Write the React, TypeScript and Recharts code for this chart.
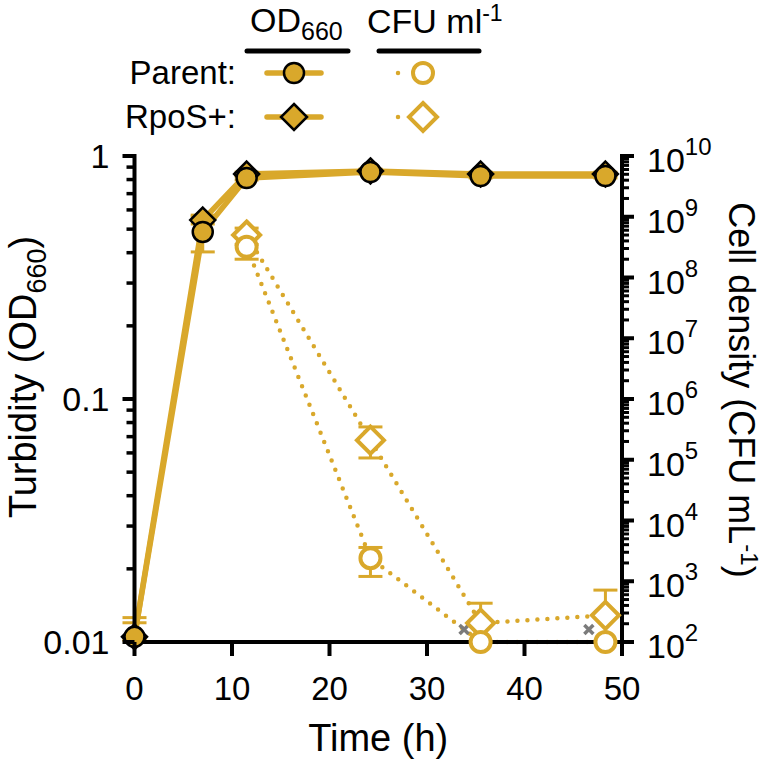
import React from "react";
import { ComposedChart, Line, Scatter, XAxis, YAxis, ErrorBar, Label } from "recharts";

const GOLD = "#D9A82B";
const GREY = "#7b7b7b";
const FONT = "'Liberation Sans', Arial, Helvetica, sans-serif";

// OD660 (left axis)
const times = [0, 7, 11.5, 24.2, 35.5, 48.3];
const odParent = [0.0105, 0.487, 0.812, 0.859, 0.827, 0.827];
const odRpoS = [0.0105, 0.545, 0.843, 0.868, 0.843, 0.843];
const odParentErr = [[0.0003, 0.0021], [0.084, 0.084], [0.015, 0.015], [0.015, 0.015], [0.015, 0.015], [0.015, 0.015]];
const odRpoSErr = [[0.0003, 0.0015], [0.02, 0.02], [0.015, 0.015], [0.015, 0.015], [0.015, 0.015], [0.015, 0.015]];

// CFU ml-1 (right axis)
const cfuTimes = [11.5, 24.2, 35.5, 48.3];
const cfuParent = [3.2e8, 2.4e3, 100, 100];
const cfuParentErr = [[1.2e8, 1.4e8], [1.2e3, 1.2e3], [0, 0], [0, 0]];
const cfuRpoS = [5.0e8, 2.1e5, 205, 275];
const cfuRpoSErr = [[1.5e8, 1.5e8], [1.03e5, 1.37e5], [0, 230], [0, 440]];

// grey crosses near detection limit
const crossTimes = [33.8, 46.6];
const crossValues = [160, 160];

// ticks
const xTicks = [0, 10, 20, 30, 40, 50];
const leftMajor = [0.01, 0.1, 1];
const leftLabels = ["0.01", "0.1", "1"];
const rightMajor = [1e2, 1e3, 1e4, 1e5, 1e6, 1e7, 1e8, 1e9, 1e10];
const rightExponents = ["2", "3", "4", "5", "6", "7", "8", "9", "10"];

const leftTicks: number[] = [];
[0.01, 0.1].forEach((d) => {
  for (let k = 1; k < 10; k++) leftTicks.push(+(d * k).toPrecision(3));
});
leftTicks.push(1);

const rightTicks: number[] = [];
rightMajor.slice(0, -1).forEach((d) => {
  for (let k = 1; k < 10; k++) rightTicks.push(d * k);
});
rightTicks.push(1e10);

const odRows = times.map((t, i) => ({
  t,
  parent: odParent[i],
  rpos: odRpoS[i],
  parentErr: odParentErr[i],
  rposErr: odRpoSErr[i],
}));
const cfuParentRows = cfuTimes.map((t, i) => ({ t, v: cfuParent[i], err: cfuParentErr[i] }));
const cfuRpoSRows = cfuTimes.map((t, i) => ({ t, v: cfuRpoS[i], err: cfuRpoSErr[i] }));
const crossRows = crossTimes.map((t, i) => ({ t, v: crossValues[i] }));

const diamondPath = (cx: number, cy: number, h: number) =>
  `M${cx},${cy - h} L${cx + h},${cy} L${cx},${cy + h} L${cx - h},${cy} Z`;

const filledCircle = (p: any) =>
  p.cy == null ? <g key={p.index} /> : (
    <circle key={p.index} cx={p.cx} cy={p.cy} r={10} fill={GOLD} stroke="#000" strokeWidth={2.5} />
  );
const filledDiamond = (p: any) =>
  p.cy == null ? <g key={p.index} /> : (
    <path key={p.index} d={diamondPath(p.cx, p.cy, 12.5)} fill={GOLD} stroke="#000" strokeWidth={2.5} />
  );
const openCircle = (p: any) =>
  p.cy == null ? <g key={p.index} /> : (
    <circle key={p.index} cx={p.cx} cy={p.cy} r={10} fill="#fff" stroke={GOLD} strokeWidth={4} />
  );
const openDiamond = (p: any) =>
  p.cy == null ? <g key={p.index} /> : (
    <path key={p.index} d={diamondPath(p.cx, p.cy, 13.5)} fill="#fff" stroke={GOLD} strokeWidth={4} />
  );
const greyCross = (p: any) => (
  <path
    d={`M${p.cx - 4.5},${p.cy - 4.5} L${p.cx + 4.5},${p.cy + 4.5} M${p.cx - 4.5},${p.cy + 4.5} L${p.cx + 4.5},${p.cy - 4.5}`}
    stroke={GREY}
    strokeWidth={3.5}
  />
);

const LeftTick = (props: any) => {
  const { x, y, payload } = props;
  const idx = leftMajor.indexOf(payload.value);
  const major = idx >= 0;
  return (
    <g>
      <line x1={x} x2={x - (major ? 12 : 8)} y1={y} y2={y} stroke="#000" strokeWidth={major ? 4 : 3.5} />
      {major && (
        <text x={x - 25} y={y + 12} textAnchor="end" fontSize={34} fontFamily={FONT} fill="#000">
          {leftLabels[idx]}
        </text>
      )}
    </g>
  );
};

const RightTick = (props: any) => {
  const { x, y, payload } = props;
  const idx = rightMajor.indexOf(payload.value);
  const major = idx >= 0;
  return (
    <g>
      <line x1={x} x2={x + (major ? 12 : 7)} y1={y} y2={y} stroke="#000" strokeWidth={major ? 4 : 3} />
      {major && (
        <text x={x + 25} y={y + 16} fontSize={34} fontFamily={FONT} fill="#000">
          10
          <tspan dy={-17} fontSize={24}>
            {rightExponents[idx]}
          </tspan>
        </text>
      )}
    </g>
  );
};

const BottomTick = (props: any) => {
  const { x, y, payload } = props;
  return (
    <g>
      <line x1={x} x2={x} y1={y} y2={y + 14} stroke="#000" strokeWidth={4} />
      <text x={x} y={y + 58} textAnchor="middle" fontSize={33} fontFamily={FONT} fill="#000">
        {payload.value}
      </text>
    </g>
  );
};

const LeftTitle = (props: any) => {
  const vb = props.viewBox;
  const cx = vb.x + 1;
  const cy = 377;
  return (
    <text
      x={cx}
      y={cy}
      transform={`rotate(-90 ${cx} ${cy})`}
      textAnchor="middle"
      fontSize={38}
      fontFamily={FONT}
      fill="#000"
    >
      Turbidity (OD<tspan dy={10} fontSize={27}>660</tspan>
      <tspan dy={-10}>)</tspan>
    </text>
  );
};

const RightTitle = (props: any) => {
  const vb = props.viewBox;
  const cx = vb.x + vb.width + 7;
  const cy = 390;
  return (
    <text
      x={cx}
      y={cy}
      transform={`rotate(90 ${cx} ${cy})`}
      textAnchor="middle"
      fontSize={36}
      fontFamily={FONT}
      fill="#000"
    >
      Cell density (CFU mL<tspan dy={-12} fontSize={24}>-1</tspan>
      <tspan dy={12}>)</tspan>
    </text>
  );
};

const BottomTitle = (props: any) => {
  const vb = props.viewBox;
  return (
    <text x={vb.x + vb.width / 2} y={751} textAnchor="middle" fontSize={38} fontFamily={FONT} fill="#000">
      Time (h)
    </text>
  );
};

function LegendBox() {
  return (
    <svg width={762} height={150} style={{ position: "absolute", left: 0, top: 0 }}>
      <g fontFamily={FONT} fill="#000">
        <text x={250} y={32} fontSize={34}>
          OD<tspan dy={8} fontSize={25}>660</tspan>
        </text>
        <text x={367} y={33} fontSize={34}>
          CFU ml<tspan dy={-12} fontSize={23}>-1</tspan>
        </text>
        <text x={236} y={84} fontSize={33} textAnchor="end">
          Parent:
        </text>
        <text x={236} y={128} fontSize={33} textAnchor="end">
          RpoS+:
        </text>
      </g>
      <line x1={247} x2={348} y1={51} y2={51} stroke="#000" strokeWidth={5} strokeLinecap="round" />
      <line x1={379} x2={479} y1={51} y2={51} stroke="#000" strokeWidth={5} strokeLinecap="round" />

      <line x1={267} x2={321} y1={73} y2={73} stroke={GOLD} strokeWidth={5.5} strokeLinecap="round" />
      <circle cx={294} cy={73} r={10} fill={GOLD} stroke="#000" strokeWidth={2.5} />
      <line x1={267} x2={321} y1={117} y2={117} stroke={GOLD} strokeWidth={5.5} strokeLinecap="round" />
      <path d={diamondPath(294, 117, 13)} fill={GOLD} stroke="#000" strokeWidth={2.5} />

      <line x1={398} x2={448} y1={73} y2={73} stroke={GOLD} strokeWidth={4.5} strokeLinecap="round" strokeDasharray="0 50" />
      <circle cx={423} cy={73} r={10} fill="#fff" stroke={GOLD} strokeWidth={4} />
      <line x1={398} x2={448} y1={117} y2={117} stroke={GOLD} strokeWidth={4.5} strokeLinecap="round" strokeDasharray="0 50" />
      <path d={diamondPath(423, 117, 14)} fill="#fff" stroke={GOLD} strokeWidth={4} />
    </svg>
  );
}

export default function App() {
  return (
    <div style={{ position: "absolute", left: 0, top: 0, width: 762, height: 763, background: "#fff" }}>
      <ComposedChart width={762} height={763} data={odRows} margin={{ top: 156, right: 40, bottom: 51, left: 34.5 }}>
        <XAxis
          dataKey="t"
          type="number"
          domain={[0, 50]}
          ticks={xTicks}
          interval={0}
          height={70}
          tickSize={0}
          tickMargin={0}
          tickLine={false}
          tick={<BottomTick />}
          axisLine={{ stroke: "#000", strokeWidth: 4, strokeLinecap: "square" }}
        >
          <Label content={<BottomTitle />} />
        </XAxis>
        <YAxis
          yAxisId="od"
          orientation="left"
          type="number"
          scale="log"
          domain={[0.01, 1]}
          ticks={leftTicks}
          interval={0}
          width={100}
          tickSize={0}
          tickMargin={0}
          tickLine={false}
          tick={<LeftTick />}
          axisLine={{ stroke: "#000", strokeWidth: 4, strokeLinecap: "square" }}
        >
          <Label content={<LeftTitle />} />
        </YAxis>
        <YAxis
          yAxisId="cfu"
          orientation="right"
          type="number"
          scale="log"
          domain={[1e2, 1e10]}
          ticks={rightTicks}
          interval={0}
          width={100}
          tickSize={0}
          tickMargin={0}
          tickLine={false}
          tick={<RightTick />}
          axisLine={{ stroke: "#000", strokeWidth: 4, strokeLinecap: "square" }}
        >
          <Label content={<RightTitle />} />
        </YAxis>

        <Line
          yAxisId="cfu"
          data={cfuRpoSRows}
          dataKey="v"
          stroke={GOLD}
          strokeWidth={4.5}
          strokeDasharray="0 10"
          strokeLinecap="round"
          dot={openDiamond}
          activeDot={false}
          isAnimationActive={false}
        >
          <ErrorBar dataKey="err" direction="y" width={12} stroke={GOLD} strokeWidth={3} />
        </Line>
        <Line
          yAxisId="cfu"
          data={cfuParentRows}
          dataKey="v"
          stroke={GOLD}
          strokeWidth={4.5}
          strokeDasharray="0 10"
          strokeLinecap="round"
          dot={openCircle}
          activeDot={false}
          isAnimationActive={false}
        >
          <ErrorBar dataKey="err" direction="y" width={12} stroke={GOLD} strokeWidth={3} />
        </Line>
        <Scatter yAxisId="cfu" data={crossRows} dataKey="v" shape={greyCross} isAnimationActive={false} />

        <Line
          yAxisId="od"
          dataKey="rpos"
          stroke={GOLD}
          strokeWidth={5.5}
          dot={filledDiamond}
          activeDot={false}
          isAnimationActive={false}
        >
          <ErrorBar dataKey="rposErr" direction="y" width={12} stroke={GOLD} strokeWidth={3} />
        </Line>
        <Line
          yAxisId="od"
          dataKey="parent"
          stroke={GOLD}
          strokeWidth={5.5}
          dot={filledCircle}
          activeDot={false}
          isAnimationActive={false}
        >
          <ErrorBar dataKey="parentErr" direction="y" width={12} stroke={GOLD} strokeWidth={3} />
        </Line>
      </ComposedChart>
      <LegendBox />
    </div>
  );
}
